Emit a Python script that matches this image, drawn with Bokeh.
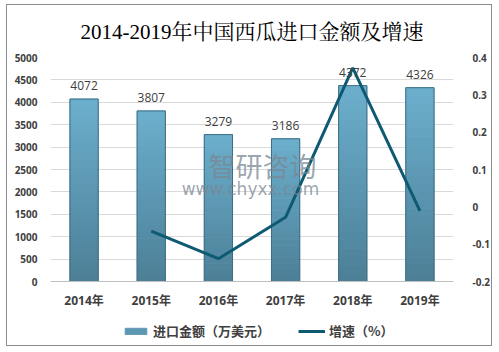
from bokeh.plotting import figure
from bokeh.models import (Range1d, LinearAxis, FixedTicker, CustomJSTickFormatter,
                          ColumnDataSource, LabelSet, Label, Legend, LegendItem,
                          FactorRange, Span)
from bokeh.core.properties import value
from bokeh.embed import file_html
from bokeh.resources import INLINE

# ---- data ----
years = ["2014年", "2015年", "2016年", "2017年", "2018年", "2019年"]
amounts = [4072, 3807, 3279, 3186, 4372, 4326]
growth_years = ["2015年", "2016年", "2017年", "2018年", "2019年"]
growth = [-0.065, -0.139, -0.028, 0.372, -0.011]
left_ticks = [0, 500, 1000, 1500, 2000, 2500, 3000, 3500, 4000, 4500, 5000]
right_ticks = [-0.2, -0.1, 0, 0.1, 0.2, 0.3, 0.4]
title_text = "2014-2019年中国西瓜进口金额及增速"
bar_label = "进口金额（万美元）"
line_label = "增速（%）"

SANS = "'Open Sans', 'Noto Sans CJK SC', sans-serif"
CJK = "'Noto Sans CJK SC', sans-serif"
SERIF = "'Liberation Serif', 'Noto Serif CJK SC', 'Noto Sans CJK SC', serif"
TXT = "#404040"

# layout: value axis spans 224 px, extra 66 px below zero for category labels + legend
PLOT_H = 224
EXTRA = 66
lmin = left_ticks[0] - (left_ticks[-1] - left_ticks[0]) * EXTRA / PLOT_H
rmin = right_ticks[0] - (right_ticks[-1] - right_ticks[0]) * EXTRA / PLOT_H

p = figure(width=486, height=342, x_range=FactorRange(*years, range_padding=0),
           y_range=Range1d(lmin, left_ticks[-1]), output_backend="svg",
           toolbar_location=None, x_axis_location=None,
           min_border_left=43, min_border_right=37, min_border_top=52,
           min_border_bottom=0)
p.margin = (4, 5, 4, 6)
p.styles = {"border": "1px solid #8c8c8c"}
p.outline_line_color = None
p.background_fill_color = "white"
p.border_fill_color = "white"

p.title.text = title_text
p.title.align = "center"
p.title.vertical_align = "top"
p.title.text_font = SERIF
p.title.text_font_size = "21px"
p.title.text_font_style = "normal"
p.title.text_color = "#000000"
p.title.standoff = 24

p.extra_y_ranges = {"g": Range1d(rmin, right_ticks[-1])}

# grid
p.xgrid.grid_line_color = None
p.ygrid.grid_line_color = "#d9d9d9"
p.ygrid.grid_line_width = 1

# left axis
ya = p.yaxis[0]
ya.ticker = FixedTicker(ticks=left_ticks)
ya.axis_line_color = None
ya.major_tick_line_color = None
ya.minor_tick_line_color = None
ya.major_label_text_font = SANS
ya.major_label_text_font_size = "10px"
ya.major_label_text_font_style = "bold"
ya.major_label_text_color = TXT
ya.major_label_standoff = 7

# right axis
ra = LinearAxis(y_range_name="g", ticker=FixedTicker(ticks=right_ticks),
                formatter=CustomJSTickFormatter(code="return String(+tick.toFixed(1));"))
ra.axis_line_color = None
ra.major_tick_line_color = None
ra.minor_tick_line_color = None
ra.major_label_text_font = SANS
ra.major_label_text_font_size = "10px"
ra.major_label_text_font_style = "bold"
ra.major_label_text_color = TXT
ra.major_label_standoff = 13
p.add_layout(ra, "right")

# category axis line at zero
p.add_layout(Span(location=0, dimension="width", line_color="#bfbfbf", line_width=1))

# bars with vertical gradient (slices derived from the data)
def hex2rgb(h):
    h = h.lstrip("#")
    return tuple(int(h[i:i + 2], 16) for i in (0, 2, 4))

top_c = hex2rgb("#6cafcd")
bot_c = hex2rgb("#4c7f96")
n = 24
slices = []
for i in range(n):
    t = (i + 0.5) / n
    c = tuple(int(round(bot_c[k] + (top_c[k] - bot_c[k]) * t)) for k in range(3))
    col = "#%02x%02x%02x" % c
    src = ColumnDataSource(dict(x=years,
                                b=[a * i / n for a in amounts],
                                t=[a * (i + 1) / n for a in amounts]))
    r = p.vbar(x="x", bottom="b", top="t", width=0.42, source=src,
               fill_color=col, line_color=col, line_width=1)
    slices.append(r)

bar_src = ColumnDataSource(dict(x=years, top=amounts, lab=[str(a) for a in amounts],
                                zero=[0] * len(years)))
p.vbar(x="x", top="top", width=0.42, source=bar_src, fill_color=None,
       line_color="#3f6f86", line_width=1)

labels = LabelSet(x="x", y="top", text="lab", source=bar_src, y_offset=9,
                  text_align="center", text_baseline="bottom",
                  text_font=value(SANS), text_font_size=value("12px"),
                  text_color=TXT)
p.add_layout(labels)

# category labels
cat_labels = LabelSet(x="x", y="zero", text="x", source=bar_src, y_offset=-19,
                      text_align="center", text_baseline="middle",
                      text_font=value(SANS), text_font_size=value("12px"),
                      text_font_style="bold", text_color=TXT)
p.add_layout(cat_labels)

# watermark
wm1 = Label(x=212, y=182, x_units="screen", y_units="screen", text="智研咨询",
            text_font=CJK, text_font_size="27px", text_color="#7a8794",
            text_alpha=0.75, text_align="center", text_baseline="middle")
wm2 = Label(x=200, y=159, x_units="screen", y_units="screen", text="www.chyxx.com",
            text_font="'DejaVu Sans', sans-serif", text_font_size="17px",
            text_color="#7a8794", text_alpha=0.75, text_align="center",
            text_baseline="middle")
p.add_layout(wm1)
p.add_layout(wm2)

# growth line
line_src = ColumnDataSource(dict(x=growth_years, y=growth))
ln = p.line(x="x", y="y", source=line_src, y_range_name="g",
            line_color="#0f5a73", line_width=3)

legend = Legend(items=[LegendItem(label=bar_label, renderers=[slices[n // 2]]),
                       LegendItem(label=line_label, renderers=[ln])],
                orientation="horizontal", location=(72, 7))
legend.border_line_color = None
legend.background_fill_alpha = 0
legend.margin = 0
legend.padding = 0
legend.spacing = 28
legend.glyph_width = 27
legend.glyph_height = 8
legend.label_height = 18
legend.label_standoff = 4
legend.label_text_font = CJK
legend.label_text_font_size = "13px"
legend.label_text_font_style = "bold"
legend.label_text_color = TXT
p.add_layout(legend, "center")

open("out.html", "w").write(file_html(p, INLINE))
